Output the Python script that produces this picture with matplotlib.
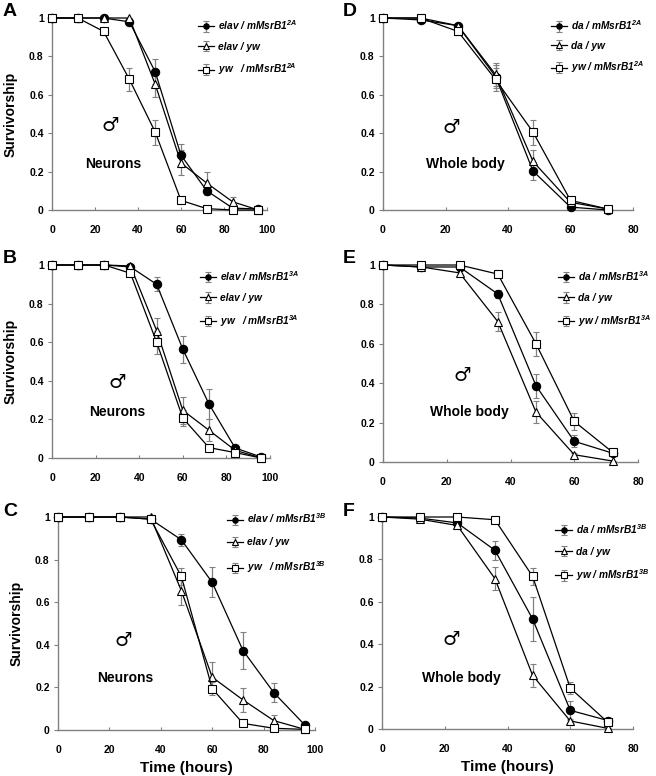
import numpy as np
import matplotlib
matplotlib.use("Agg")
import matplotlib.pyplot as plt

plt.rcParams['font.family'] = ['Liberation Sans', 'DejaVu Sans']
plt.rcParams['mathtext.fontset'] = 'custom'
plt.rcParams['mathtext.rm'] = 'Liberation Sans:italic:bold'
plt.rcParams['mathtext.it'] = 'Liberation Sans:italic:bold'
plt.rcParams['mathtext.bf'] = 'Liberation Sans:italic:bold'

# time points (hours)
t_neur = [0, 12, 24, 36, 48, 60, 72, 84, 96]
t_body = [0, 12, 24, 36, 48, 60, 72]

# panel A: elav driver, 2A
a_circ = [1, 1, 1, 0.98, 0.72, 0.285, 0.10, 0.01, 0.005]
a_circ_err = [0, 0, 0, 0.01, 0.064, 0.06, 0.02, 0.01, 0]
a_tri = [1, 1, 1, 1, 0.655, 0.245, 0.14, 0.043, 0.0]
a_tri_err = [0, 0, 0, 0, 0.066, 0.065, 0.058, 0.025, 0]
a_sq = [1, 1, 0.93, 0.68, 0.406, 0.05, 0.007, 0.0, 0.0]
a_sq_err = [0, 0, 0.02, 0.06, 0.065, 0.01, 0.005, 0, 0]

# panel B: elav driver, 3A
b_circ = [1, 1, 1, 0.99, 0.90, 0.564, 0.28, 0.052, 0.005]
b_circ_err = [0, 0, 0, 0.01, 0.036, 0.07, 0.08, 0.01, 0]
b_tri = [1, 1, 1, 0.995, 0.66, 0.247, 0.144, 0.04, 0.0]
b_tri_err = [0, 0, 0, 0.005, 0.065, 0.07, 0.058, 0.01, 0]
b_sq = [1, 1, 1, 0.957, 0.60, 0.207, 0.054, 0.028, 0.0]
b_sq_err = [0, 0, 0, 0.01, 0.06, 0.04, 0.01, 0.005, 0]

# panel C: elav driver, 3B
c_circ = [1, 1, 1, 0.99, 0.893, 0.693, 0.373, 0.175, 0.024]
c_circ_err = [0, 0, 0, 0.01, 0.028, 0.07, 0.085, 0.045, 0.005]
c_tri = [1, 1, 1, 1, 0.654, 0.248, 0.141, 0.044, 0.003]
c_tri_err = [0, 0, 0, 0.01, 0.065, 0.07, 0.058, 0.025, 0]
c_sq = [1, 1, 1, 0.99, 0.721, 0.194, 0.031, 0.008, 0.003]
c_sq_err = [0, 0, 0, 0.01, 0.04, 0.03, 0.005, 0.005, 0]

# panel D: da driver, 2A
d_circ = [1, 0.99, 0.96, 0.695, 0.203, 0.015, 0.0]
d_circ_err = [0, 0.005, 0.01, 0.06, 0.045, 0.01, 0]
d_tri = [1, 1, 0.96, 0.706, 0.253, 0.04, 0.005]
d_tri_err = [0, 0, 0.01, 0.06, 0.06, 0.01, 0]
d_sq = [1, 1, 0.93, 0.68, 0.406, 0.05, 0.005]
d_sq_err = [0, 0, 0.02, 0.06, 0.065, 0.01, 0]

# panel E: da driver, 3A
e_circ = [1, 0.99, 0.99, 0.853, 0.387, 0.105, 0.045]
e_circ_err = [0, 0, 0.005, 0.02, 0.06, 0.03, 0.01]
e_tri = [1, 0.99, 0.96, 0.713, 0.253, 0.037, 0.005]
e_tri_err = [0, 0, 0.01, 0.05, 0.055, 0.01, 0]
e_sq = [1, 1, 1, 0.954, 0.60, 0.206, 0.05]
e_sq_err = [0, 0, 0, 0.01, 0.06, 0.045, 0.01]

# panel F: da driver, 3B
f_circ = [1, 0.995, 0.972, 0.843, 0.519, 0.088, 0.04]
f_circ_err = [0, 0, 0.01, 0.045, 0.105, 0.045, 0.01]
f_tri = [1, 0.99, 0.96, 0.709, 0.253, 0.038, 0.003]
f_tri_err = [0, 0, 0.01, 0.055, 0.055, 0.01, 0]
f_sq = [1, 1, 1, 0.987, 0.72, 0.193, 0.031]
f_sq_err = [0, 0, 0, 0.01, 0.04, 0.03, 0.01]

panels = [
    # letter, rect (px: left, top, w, h), x, xmax, series, labels, tissue,
    # tissue pos, male pos, legend anchor, legend spacing, ylabel, xlabel
    ("A", [52, 18, 215, 192], t_neur, 100,
     [(a_circ, a_circ_err), (a_tri, a_tri_err), (a_sq, a_sq_err)],
     [r"elav / mMsrB1$^{2A}$", "elav / yw", r"yw   / mMsrB1$^{2A}$"],
     "Neurons", (28.4, 0.24), (27, 0.44), (0.66, 1.02), 0.95, True, False),
    ("B", [52, 265, 218, 193], t_neur, 100,
     [(b_circ, b_circ_err), (b_tri, b_tri_err), (b_sq, b_sq_err)],
     [r"elav / mMsrB1$^{3A}$", "elav / yw", r"yw   / mMsrB1$^{3A}$"],
     "Neurons", (29.8, 0.24), (30, 0.39), (0.66, 1.0), 1.0, True, False),
    ("C", [58, 517, 257, 213], t_neur, 100,
     [(c_circ, c_circ_err), (c_tri, c_tri_err), (c_sq, c_sq_err)],
     [r"elav / mMsrB1$^{3B}$", "elav / yw", r"yw   / mMsrB1$^{3B}$"],
     "Neurons", (26, 0.244), (25.5, 0.42), (0.64, 1.045), 1.2, True, True),
    ("D", [383, 18, 250, 192], t_body, 80,
     [(d_circ, d_circ_err), (d_tri, d_tri_err), (d_sq, d_sq_err)],
     [r"da / mMsrB1$^{2A}$", "da / yw", r"yw / mMsrB1$^{2A}$"],
     "Whole body", (26.4, 0.24), (21.8, 0.43), (0.655, 1.02), 0.85, False, False),
    ("E", [383, 265, 255, 197], t_body, 80,
     [(e_circ, e_circ_err), (e_tri, e_tri_err), (e_sq, e_sq_err)],
     [r"da / mMsrB1$^{3A}$", "da / yw", r"yw / mMsrB1$^{3A}$"],
     "Whole body", (27.2, 0.254), (25, 0.44), (0.67, 1.0), 1.0, False, False),
    ("F", [382, 517, 251, 212], t_body, 80,
     [(f_circ, f_circ_err), (f_tri, f_tri_err), (f_sq, f_sq_err)],
     [r"da / mMsrB1$^{3B}$", "da / yw", r"yw / mMsrB1$^{3B}$"],
     "Whole body", (25.2, 0.24), (22, 0.42), (0.675, 0.995), 1.05, False, True),
]

W, H = 656, 776
fig = plt.figure(figsize=(W / 100, H / 100), dpi=100)

styles = [
    dict(marker='o', markersize=6, markerfacecolor='black'),
    dict(marker='^', markersize=6, markerfacecolor='white'),
    dict(marker='s', markersize=6, markerfacecolor='white'),
]

for (letter, rect, x, xmax, series, labels, tissue, tpos, mpos,
     lanchor, lspace, ylab, xlab) in panels:
    left, top, w, h = rect
    ax = fig.add_axes([left / W, (H - top - h) / H, w / W, h / H])
    for (y, err), st, lab in zip(series, styles, labels):
        ax.errorbar(x, y, yerr=err, color='black', ecolor='#808080',
                    elinewidth=0.9, capsize=2, capthick=0.9, lw=0.9,
                    markeredgecolor='black', markeredgewidth=0.8,
                    label=lab, clip_on=False, zorder=3, **st)
    ax.set_xlim(0, xmax)
    ax.set_ylim(0, 1)
    ax.set_xticks(np.arange(0, xmax + 1, 20))
    ax.set_yticks([0, 0.2, 0.4, 0.6, 0.8, 1])
    ax.set_yticklabels(['0', '0.2', '0.4', '0.6', '0.8', '1'])
    for s in ['top', 'right']:
        ax.spines[s].set_visible(False)
    for s in ['left', 'bottom']:
        ax.spines[s].set_color('#808080')
        ax.spines[s].set_linewidth(1.0)
    ax.tick_params(axis='y', direction='out', length=3, color='#808080',
                   labelsize=7.5, pad=3)
    ax.tick_params(axis='x', direction='in', length=2.5, color='#808080',
                   labelsize=7.5, pad=11)
    for lbl in ax.get_xticklabels() + ax.get_yticklabels():
        lbl.set_fontweight('bold')

    leg = ax.legend(loc='upper left', bbox_to_anchor=lanchor, frameon=False,
                    fontsize=7.3, handlelength=1.6, handletextpad=0.4,
                    labelspacing=lspace, markerscale=0.65, borderaxespad=0)
    for txt in leg.get_texts():
        txt.set_fontweight('bold')
        txt.set_fontstyle('italic')

    ax.text(tpos[0], tpos[1], tissue, ha='center', va='center',
            fontsize=10, fontweight='bold')
    ax.text(mpos[0], mpos[1], '\u2642', ha='center', va='center',
            fontsize=14, family=['DejaVu Sans', 'Noto Sans CJK SC'])

    if letter in "ABC":
        lx = 3 / W
    else:
        lx = 343 / W
    fig.text(lx, 1 - (top - 6) / H, letter, ha='left', va='center',
             fontsize=14, fontweight='bold')

    if ylab:
        ax.set_ylabel('Survivorship', fontsize=10, fontweight='bold',
                      labelpad=8)
    if xlab:
        ax.set_xlabel('Time (hours)', fontsize=11, fontweight='bold',
                      labelpad=4)

fig.savefig('out.png', dpi=100)
